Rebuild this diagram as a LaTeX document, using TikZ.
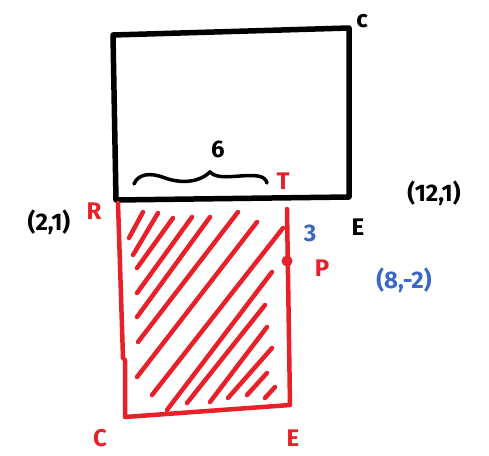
\documentclass[tikz,border=0pt]{standalone}
\usepackage{fontspec}
\setmainfont{Fira Sans}
\definecolor{pred}{HTML}{E8202A}
\definecolor{pblue}{HTML}{3A66C4}
\begin{document}
\begin{tikzpicture}[x=1pt,y=-1pt,
  blk/.style={line width=5.5pt,line cap=round,line join=round,black},
  redl/.style={line width=4.5pt,line cap=round,line join=round,pred},
  hatch/.style={line width=4.5pt,line cap=round,pred},
  lbl/.style={font=\fontsize{24}{24}\selectfont\bfseries,inner sep=0pt}]
\useasboundingbox (0,0) rectangle (489,455);
% black rectangle
\coordinate (b1) at (113,35);
\coordinate (b2) at (349,28);
\coordinate (b3) at (349,197);
\coordinate (b4) at (116,200);
\draw[blk] (b1) -- (b2) -- (b3) -- (b4) -- cycle;
% red rectangle
\coordinate (r1) at (118,203);
\coordinate (r2) at (123,358);
\coordinate (r3) at (125,360);
\coordinate (r4) at (125,417);
\coordinate (r5) at (290,405);
\coordinate (r6) at (287,209);
\draw[redl] (r1) -- (r2) -- (r3) -- (r4) -- (r5) -- (r6);
% hatching
\foreach \a/\b/\c/\d in {
 129/238/143/212, 133/255/158/213, 137/268/173/218, 137/293/192/217,
 137/317/210/217, 138/342/238/212, 137/377/257/222, 152/395/283/228,
 167/410/272/272, 187/403/265/305, 210/402/267/327, 228/398/272/348,
 247/395/267/373, 265/398/275/387}
  \draw[hatch] (\a,\b) -- (\c,\d);
% point P
\fill[pred] (287,261) circle (5.5);
% brace
\draw[line width=3.5pt,line cap=round,black]
  (134,184) .. controls (138,174) and (150,172) .. (165,178)
  .. controls (182,184) and (200,182) .. (210,172)
  .. controls (216,178) and (226,177) .. (240,176)
  .. controls (255,175) and (265,175) .. (267,183);
% labels
\node[lbl] (six) at (218,149) {6};
\node[lbl,pred] (T) at (283,181) {T};
\node[lbl] (Ctop) at (362,21) {c};
\node[lbl] (p21) at (49,222) {(2,1)};
\node[lbl,pred] (R) at (94,211) {R};
\node[lbl] (p121) at (434,193) {(12,1)};
\node[lbl] (E1) at (358,227) {E};
\node[lbl,pblue] (three) at (310,233) {3};
\node[lbl,pred] (P) at (322,268) {P};
\node[lbl,pblue] (p82) at (404,280) {(8,-2)};
\node[lbl,pred] (Cb) at (100,438) {C};
\node[lbl,pred] (Eb) at (293,438) {E};
\end{tikzpicture}
\end{document}
